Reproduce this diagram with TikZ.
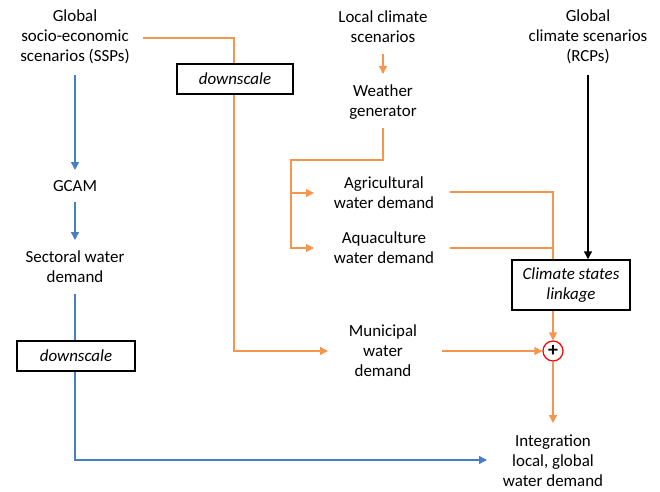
\documentclass[tikz,border=0pt]{standalone}
\usepackage{fontspec}
\setmainfont{Carlito}
\usetikzlibrary{arrows.meta,calc,backgrounds}
\definecolor{org}{RGB}{246,150,78}
\definecolor{blu}{RGB}{72,125,200}
\begin{document}
\begin{tikzpicture}[x=0.75pt,y=-0.75pt,
  txt/.style={align=center,font=\fontsize{12.7}{15}\selectfont,inner sep=0pt},
  box/.style={draw,line width=1.1pt,fill=white,align=center,inner sep=0pt,
    font=\fontsize{12.7}{15}\selectfont\itshape},
  oline/.style={draw=org,line width=1pt},
  oarrow/.style={oline,-{Triangle[length=6pt,width=6pt]}},
  bline/.style={draw=blu,line width=1pt},
  barrow/.style={bline,-{Triangle[length=6pt,width=6pt]}},
  karrow/.style={draw=black,line width=1pt,-{Triangle[length=6pt,width=6pt]}}]
\useasboundingbox (0,0) rectangle (660,492);
% nodes
\node[txt] (ssp) at (75,37) {Global\\socio-economic\\scenarios (SSPs)};
\node[txt] (gcam) at (75,186) {GCAM};
\node[txt] (sect) at (75,267) {Sectoral water\\demand};
\node[box,minimum width=88.5pt,minimum height=22.5pt] (ds2) at (76,356) {downscale};
\node[box,minimum width=87pt,minimum height=22.5pt] (ds1) at (235,79) {downscale};
\node[txt] (local) at (383,27) {Local climate\\scenarios};
\node[txt] (wg) at (383,102) {Weather\\generator};
\node[txt] (agr) at (384,193) {Agricultural\\water demand};
\node[txt] (aqua) at (384,248) {Aquaculture\\water demand};
\node[txt] (muni) at (383,351) {Municipal\\water\\demand};
\node[txt] (gcs) at (588,37) {Global\\climate scenarios\\(RCPs)};
\node[box,minimum width=88.5pt,minimum height=37.5pt] (csl) at (571,285) {Climate states\\linkage};
\node[circle,draw=red,fill=white,line width=0.9pt,minimum size=15pt,inner sep=0pt,
  font=\fontsize{15}{15}\selectfont\bfseries] (plus) at (553,351) {+};
\node[txt] (integ) at (553,461) {Integration\\local, global\\water demand};
% connectors
\begin{scope}[on background layer]
\draw[barrow] ($(ssp)+(0,38)$) -- ($(gcam)+(0,-16)$);
\draw[barrow] ($(gcam)+(0,16)$) -- ($(sect)+(0,-27)$);
\draw[barrow] ($(sect)+(0,27)$) |- ($(integ)+(-66,-1)$);
\draw[oarrow] ($(ssp)+(68,1)$) -| ($(muni)+(-149,0)$) -- ($(muni)+(-55,0)$);
\draw[oarrow] ($(local)+(0,27)$) -- ($(wg)+(0,-28)$);
\draw[oarrow] ($(wg)+(0,26)$) |- ($(agr)+(-93,-33)$) |- ($(aqua)+(-70,0)$);
\draw[oarrow] ($(agr)+(-93,0)$) -- ($(agr)+(-70,0)$);
\draw[oline] ($(agr)+(66,-1)$) -| ($(csl.north)+(-18,0)$);
\draw[oline] ($(aqua)+(66,0)$) -- ($(aqua)+(169,0)$);
\draw[karrow] ($(gcs)+(0,38)$) -- (csl.north -| gcs);
\draw[oarrow] ($(csl.south)+(-18,0)$) -- (plus.north);
\draw[oarrow] ($(muni)+(59,0)$) -- (plus.west);
\draw[oarrow] (plus.south) -- ($(integ)+(0,-38)$);
\end{scope}
\end{tikzpicture}
\end{document}
